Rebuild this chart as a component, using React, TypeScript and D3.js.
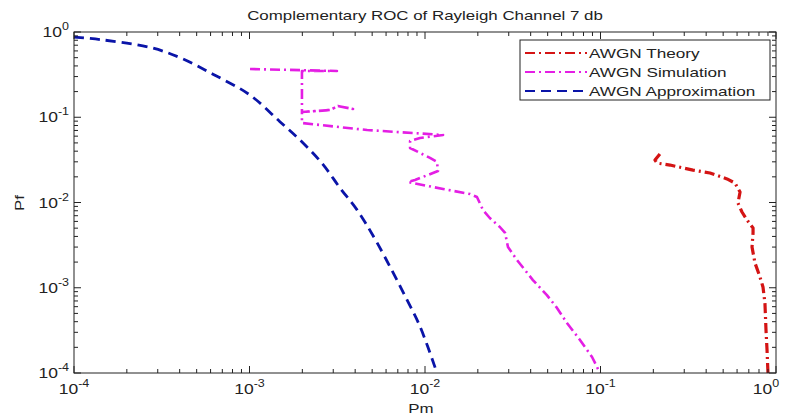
import * as d3 from "d3";

// Pm / Pf values
const pmTheory = [0.218, 0.2044, 0.21, 0.249, 0.3365, 0.4206, 0.526, 0.584, 0.624, 0.607, 0.64, 0.684, 0.74, 0.74, 0.73, 0.759, 0.81, 0.843, 0.865, 0.877, 0.889, 0.9];
const pfTheory = [0.0371, 0.0315, 0.029, 0.0275, 0.024, 0.0222, 0.0189, 0.0169, 0.01328, 0.00986, 0.00774, 0.00623, 0.00502, 0.00439, 0.003, 0.00195, 0.00134, 0.00102, 0.00066, 0.000319, 0.000186, 0.0001];

const pmSim = [0.001007, 0.00315, 0.00199, 0.00199, 0.00288, 0.00319, 0.00389, 0.00319, 0.00288, 0.00199, 0.00199, 0.00468, 0.01268, 0.00937, 0.00822, 0.00822, 0.01068, 0.0117, 0.01186, 0.0111, 0.00877, 0.008, 0.01268, 0.01803, 0.01977, 0.0214, 0.0234, 0.0267, 0.0286, 0.0297, 0.0334, 0.0412, 0.0495, 0.0565, 0.0644, 0.0764, 0.0895, 0.0993];
const pfSim = [0.368, 0.349, 0.349, 0.115, 0.1216, 0.1355, 0.125, 0.1355, 0.1216, 0.115, 0.0856, 0.0708, 0.0619, 0.0571, 0.0526, 0.0436, 0.0333, 0.0299, 0.0234, 0.0222, 0.01836, 0.01738, 0.0144, 0.01258, 0.0116, 0.00817, 0.00658, 0.00516, 0.00439, 0.00301, 0.00212, 0.00123, 0.00082, 0.00058, 0.000386, 0.000244, 0.000154, 0.0001];

const pmApprox = [0.0001, 0.000141, 0.000271, 0.000402, 0.000619, 0.001007, 0.00149, 0.00202, 0.00262, 0.00328, 0.0041, 0.0053, 0.0079, 0.0094, 0.0117];
const pfApprox = [0.873, 0.815, 0.66, 0.5, 0.32, 0.182, 0.0887, 0.0499, 0.028, 0.0148, 0.0082, 0.00345, 0.00072, 0.000345, 0.0001];

const decades = [-4, -3, -2, -1, 0];
const seriesNames = ["AWGN Theory", "AWGN Simulation", "AWGN Approximation"];

const W = 785;
const H = 416;
const FONT = "'Liberation Sans', Arial, Helvetica, sans-serif";

const x = d3.scaleLog().domain([1e-4, 1]).range([74, 776]);
const y = d3.scaleLog().domain([1e-4, 1]).range([373, 32]);

const series = [
  { name: seriesNames[0], pm: pmTheory, pf: pfTheory, color: "#d41414", width: 3.2, dash: "10 4 2 4", smooth: false },
  { name: seriesNames[1], pm: pmSim, pf: pfSim, color: "#e41ee4", width: 2.6, dash: "10 4 2 4", smooth: false },
  { name: seriesNames[2], pm: pmApprox, pf: pfApprox, color: "#0a14a8", width: 2.8, dash: "10 6", smooth: true },
];

const minors: number[] = [];
decades.slice(0, -1).forEach((d) => {
  for (let k = 2; k <= 9; k++) minors.push(k * Math.pow(10, d));
});

function Pow10({ e, tx, ty, anchor }: { e: number; tx: number; ty: number; anchor: string }) {
  return (
    <text
      transform={`translate(${tx},${ty}) scale(1.25,1)`}
      textAnchor={anchor}
      fontSize={14}
      fontFamily={FONT}
      fill="#222"
    >
      10
      <tspan dy={-7} fontSize={10}>
        {e}
      </tspan>
    </text>
  );
}

export default function App() {
  const lineFor = (smooth: boolean) =>
    d3
      .line<[number, number]>()
      .x((d) => x(d[0]))
      .y((d) => y(d[1]))
      .curve(smooth ? d3.curveCatmullRom : d3.curveLinear);

  const [x0, x1] = x.range();
  const [y0, y1] = y.range();

  return (
    <svg width={W} height={H} style={{ position: "absolute", left: 0, top: 0, background: "#fff" }}>
      <defs>
        <clipPath id="plot">
          <rect x={x0} y={y1} width={x1 - x0} height={y0 - y1} />
        </clipPath>
      </defs>
      <rect width={W} height={H} fill="#fff" />

      {/* curves */}
      <g clipPath="url(#plot)" fill="none" strokeLinejoin="round">
        {series.map((s) => (
          <path
            key={s.name}
            d={lineFor(s.smooth)(s.pm.map((v, i) => [v, s.pf[i]] as [number, number])) || ""}
            stroke={s.color}
            strokeWidth={s.width}
            strokeDasharray={s.dash}
          />
        ))}
      </g>

      {/* frame + ticks */}
      <g stroke="#222" strokeWidth={1}>
        <rect x={x0} y={y1} width={x1 - x0} height={y0 - y1} fill="none" />
        {decades.map((d) => {
          const v = Math.pow(10, d);
          return (
            <g key={"M" + d}>
              <line x1={x(v)} x2={x(v)} y1={y0} y2={y0 - 7} />
              <line x1={x(v)} x2={x(v)} y1={y1} y2={y1 + 7} />
              <line x1={x0} x2={x0 + 7} y1={y(v)} y2={y(v)} />
              <line x1={x1} x2={x1 - 7} y1={y(v)} y2={y(v)} />
            </g>
          );
        })}
        {minors.map((v, i) => (
          <g key={"m" + i}>
            <line x1={x(v)} x2={x(v)} y1={y0} y2={y0 - 4} />
            <line x1={x(v)} x2={x(v)} y1={y1} y2={y1 + 4} />
            <line x1={x0} x2={x0 + 4} y1={y(v)} y2={y(v)} />
            <line x1={x1} x2={x1 - 4} y1={y(v)} y2={y(v)} />
          </g>
        ))}
      </g>

      {/* tick labels */}
      {decades.map((d) => (
        <Pow10 key={"xl" + d} e={d} tx={Math.min(x(Math.pow(10, d)), 766)} ty={y0 + 21} anchor="middle" />
      ))}
      {decades.map((d) => (
        <Pow10 key={"yl" + d} e={d} tx={69} ty={y(Math.pow(10, d)) + 5} anchor="end" />
      ))}

      {/* title and axis labels */}
      <text transform={`translate(425,20) scale(1.3,1)`} textAnchor="middle" fontSize={13} fontFamily={FONT} fill="#222">
        Complementary ROC of Rayleigh Channel 7 db
      </text>
      <text transform={`translate(421,413) scale(1.3,1)`} textAnchor="middle" fontSize={13} fontFamily={FONT} fill="#222">
        Pm
      </text>
      <text transform={`translate(24,203) rotate(-90) scale(1.3,1)`} textAnchor="middle" fontSize={13} fontFamily={FONT} fill="#222">
        Pf
      </text>

      {/* legend */}
      <g>
        <rect x={520} y={40} width={250} height={60} fill="#fff" stroke="#222" strokeWidth={1} />
        {series.map((s, i) => {
          const ly = 53 + i * 19;
          return (
            <g key={"lg" + s.name}>
              <line x1={525} x2={587} y1={ly} y2={ly} stroke={s.color} strokeWidth={2} strokeDasharray={s.dash} />
              <text
                transform={`translate(589,${ly + 5}) scale(1.32,1)`}
                fontSize={13}
                fontFamily={FONT}
                fill="#222"
              >
                {s.name}
              </text>
            </g>
          );
        })}
      </g>
    </svg>
  );
}
